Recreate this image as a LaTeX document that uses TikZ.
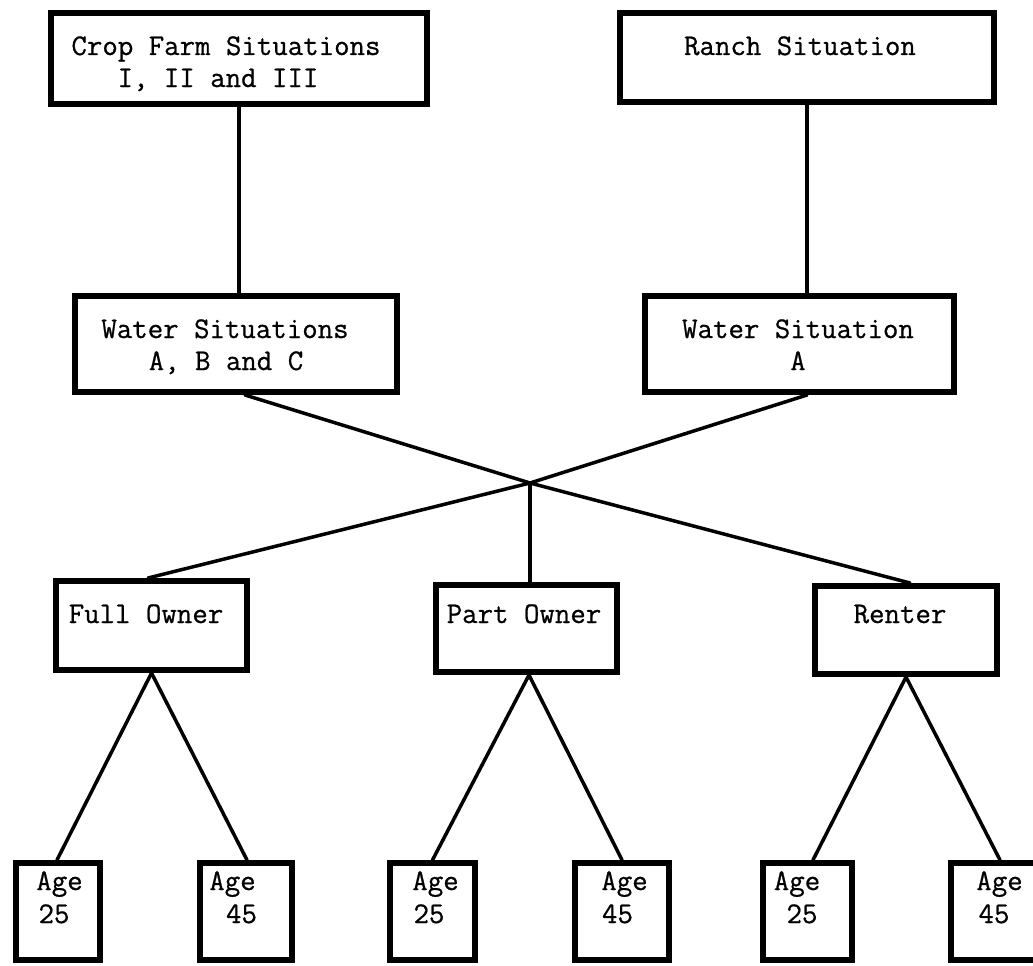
\documentclass[tikz,border=0pt]{standalone}
\usepackage{fontspec}
\newfontfamily\twfont[FakeBold=0.7]{Latin Modern Mono}
\begin{document}
\begin{tikzpicture}[x=1pt,y=-1pt,
  boxnode/.style={draw=black,line width=6pt,fill=none,inner sep=0pt,rectangle,minimum width=#1},
  txt/.style={font=\fontsize{30}{32}\selectfont\twfont,inner sep=0pt,anchor=base},
  conn/.style={draw=black,line width=3.5pt,line cap=round,line join=round}]
\useasboundingbox (0,0) rectangle (1033,966);
% boxes
\node[boxnode=376pt,minimum height=91pt] (crop) at (239,58.5) {};
\node[boxnode=374pt,minimum height=89pt] (ranch) at (807,57.5) {};
\node[boxnode=322pt,minimum height=96pt] (wsit) at (236,344) {};
\node[boxnode=309pt,minimum height=96pt] (wa) at (799.5,344) {};
\node[boxnode=191pt,minimum height=89pt] (full) at (151.5,625.5) {};
\node[boxnode=181pt,minimum height=87pt] (part) at (526.5,628.5) {};
\node[boxnode=182pt,minimum height=88pt] (renter) at (906,630) {};
\node[boxnode=84pt,minimum height=97pt] (a1) at (58,911.5) {};
\node[boxnode=92pt,minimum height=97pt] (a2) at (246,911.5) {};
\node[boxnode=85pt,minimum height=97pt] (a3) at (432.5,911.5) {};
\node[boxnode=94pt,minimum height=97pt] (a4) at (622,911.5) {};
\node[boxnode=89pt,minimum height=97pt] (a5) at (807.5,911.5) {};
\node[boxnode=89pt,minimum height=97pt] (a6) at (995.5,911.5) {};
% texts
\node[txt] (t1a) at (226,55) {Crop Farm Situations};
\node[txt] (t1b) at (218,87) {I, II and III};
\node[txt] (t2) at (800,55) {Ranch Situation};
\node[txt] (t3a) at (225,338) {Water Situations};
\node[txt] (t3b) at (226,370) {A, B and C};
\node[txt] (t4a) at (798,338) {Water Situation};
\node[txt] (t4b) at (798,370) {A};
\node[txt] (t5) at (146,623) {Full Owner};
\node[txt] (t6) at (524,623) {Part Owner};
\node[txt] (t7) at (900,623) {Renter};
\node[txt] (g1) at (59.5,890) {Age};  \node[txt] (n1) at (54,923) {25};
\node[txt] (g2) at (232.5,890) {Age}; \node[txt] (n2) at (241.5,923) {45};
\node[txt] (g3) at (435.5,890) {Age}; \node[txt] (n3) at (429,923) {25};
\node[txt] (g4) at (624.5,890) {Age}; \node[txt] (n4) at (617.5,923) {45};
\node[txt] (g5) at (797,890) {Age};   \node[txt] (n5) at (802,923) {25};
\node[txt] (g6) at (999.5,890) {Age}; \node[txt] (n6) at (994,923) {45};
% connectors
\coordinate (J) at (530,483);
\path[conn] (crop.south) -- (crop.south |- wsit.north);
\path[conn] (ranch.south) -- (ranch.south |- wa.north);
\path[conn] ([xshift=9pt]wsit.south) -- (J) -- ([xshift=4pt]renter.north);
\path[conn] ([xshift=7.5pt]wa.south) -- (J) -- ([xshift=-3.5pt]full.north);
\path[conn] (J) -- (J |- part.north);
\path[conn] (full.south) -- ([xshift=-1pt]a1.north);
\path[conn] (full.south) -- ([xshift=1pt]a2.north);
\path[conn] ([xshift=2.5pt]part.south) -- (a3.north);
\path[conn] ([xshift=2.5pt]part.south) -- (a4.north);
\path[conn] (renter.south) -- ([xshift=5.5pt]a5.north);
\path[conn] (renter.south) -- ([xshift=4.5pt]a6.north);
\end{tikzpicture}
\end{document}
